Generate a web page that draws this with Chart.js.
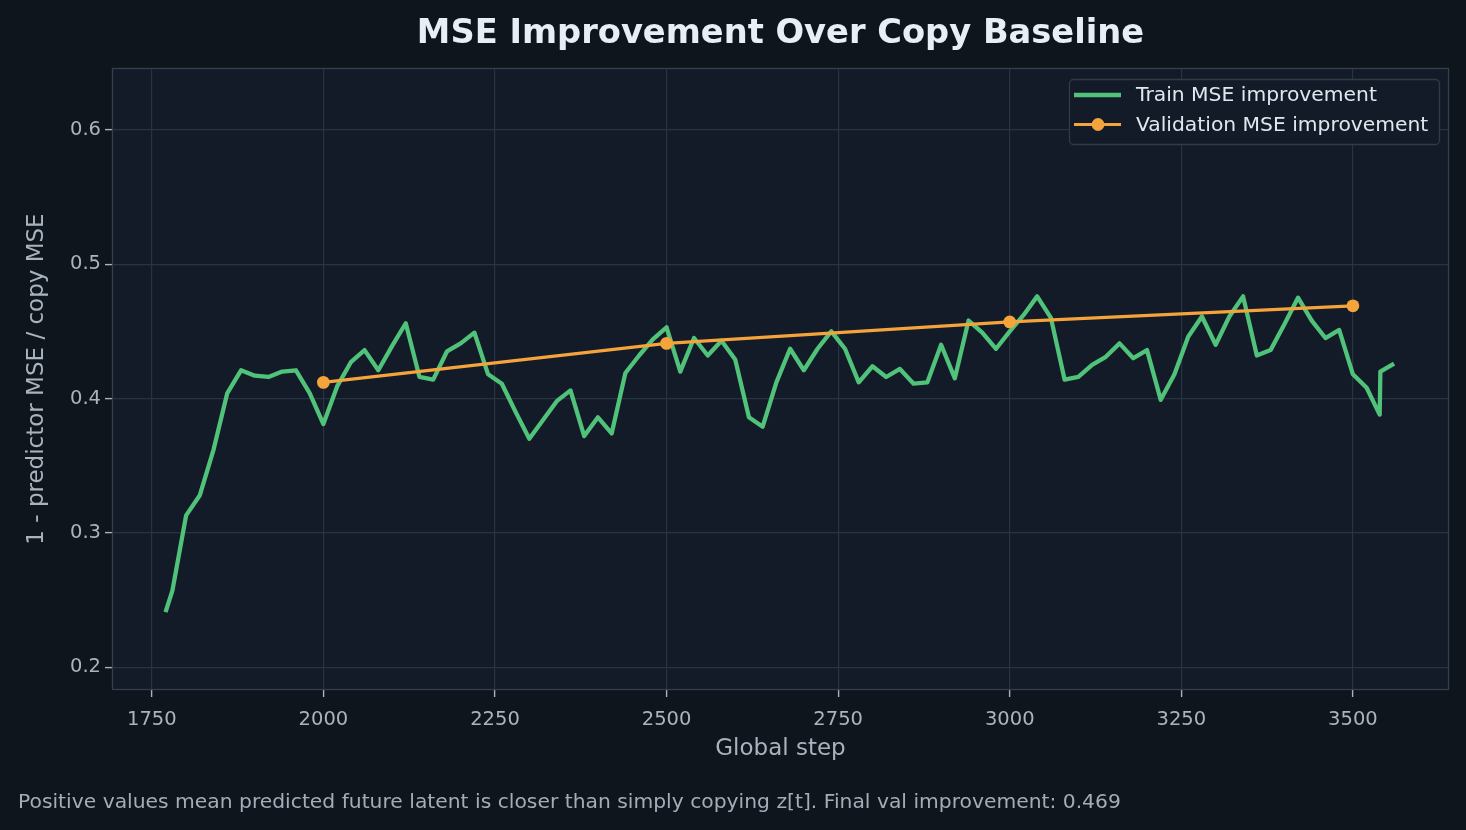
<!DOCTYPE html>
<html>
<head>
<meta charset="utf-8">
<title>MSE Improvement Over Copy Baseline</title>
<script src="https://cdn.jsdelivr.net/npm/chart.js@4.4.1/dist/chart.umd.min.js"></script>
<style>
  html, body { margin: 0; padding: 0; background: #0f151d; }
  canvas { display: block; }
</style>
</head>
<body>
<canvas id="chartMse" width="1466" height="830"></canvas>
<script>
// ─── Data ───────────────────────────────────────────────────────────────────
const trainSteps = [
  1770, 1780, 1800, 1820, 1840, 1860, 1880, 1900, 1920, 1940, 1960, 1980,
  2000, 2020, 2040, 2060, 2080, 2100, 2120, 2140, 2160, 2180, 2200, 2220,
  2240, 2260, 2280, 2300, 2320, 2340, 2360, 2380, 2400, 2420, 2440, 2460,
  2480, 2500, 2520, 2540, 2560, 2580, 2600, 2620, 2640, 2660, 2680, 2700,
  2720, 2740, 2760, 2780, 2800, 2820, 2840, 2860, 2880, 2900, 2920, 2940,
  2960, 2980, 3000, 3020, 3040, 3060, 3080, 3100, 3120, 3140, 3160, 3180,
  3200, 3220, 3240, 3260, 3280, 3300, 3320, 3340, 3360, 3380, 3400, 3420,
  3440, 3460, 3480, 3500, 3520, 3539, 3540, 3560,
];
const trainImprovement = [
  0.241, 0.257, 0.313, 0.328, 0.362, 0.404, 0.421, 0.417, 0.416, 0.420, 0.421, 0.404,
  0.381, 0.409, 0.427, 0.436, 0.421, 0.439, 0.456, 0.416, 0.414, 0.435, 0.441, 0.449,
  0.418, 0.411, 0.390, 0.370, 0.384, 0.398, 0.406, 0.372, 0.386, 0.374, 0.419, 0.432,
  0.444, 0.453, 0.420, 0.445, 0.432, 0.443, 0.429, 0.386, 0.379, 0.412, 0.437, 0.421,
  0.437, 0.450, 0.437, 0.412, 0.424, 0.416, 0.422, 0.411, 0.412, 0.440, 0.415, 0.458,
  0.449, 0.437, 0.450, 0.462, 0.476, 0.460, 0.414, 0.416, 0.425, 0.431, 0.441, 0.430,
  0.436, 0.399, 0.418, 0.446, 0.461, 0.440, 0.461, 0.476, 0.432, 0.436, 0.455, 0.475,
  0.458, 0.445, 0.451, 0.418, 0.408, 0.388, 0.420, 0.426,
];
const valSteps       = [2000, 2500, 3000, 3500];
const valImprovement = [0.412, 0.441, 0.457, 0.469];

const xTicks = [1750, 2000, 2250, 2500, 2750, 3000, 3250, 3500];
const yTicks = [0.2, 0.3, 0.4, 0.5, 0.6];

const TITLE   = 'MSE Improvement Over Copy Baseline';
const X_LABEL = 'Global step';
const Y_LABEL = '1 - predictor MSE / copy MSE';
const NOTE    = 'Positive values mean predicted future latent is closer than simply copying z[t]. Final val improvement: 0.469';

// ─── Look ───────────────────────────────────────────────────────────────────
const FONT = '"DejaVu Sans", "Liberation Sans", sans-serif';
const COL = {
  fig:    '#0f151d',
  plot:   '#121b27',
  grid:   '#283441',
  spine:  '#34404d',
  tick:   '#aab4bf',
  label:  '#a9b3be',
  title:  '#e8eef6',
  legend: '#e1e7ee',
  note:   '#a3adb8',
  train:  '#50c27a',
  val:    '#f5a33b',
};

// ─── Frame plugin: backgrounds, spines, titles, legend, note ───────────────
const frame = {
  id: 'frame',
  beforeDraw(chart) {
    const { ctx, chartArea: a } = chart;
    ctx.save();
    ctx.fillStyle = COL.fig;
    ctx.fillRect(0, 0, chart.width, chart.height);
    ctx.fillStyle = COL.plot;
    ctx.fillRect(a.left, a.top, a.right - a.left, a.bottom - a.top);
    ctx.restore();
  },
  afterDraw(chart) {
    const { ctx, chartArea: a } = chart;
    const midX = (a.left + a.right) / 2;
    ctx.save();

    // spines
    ctx.strokeStyle = COL.spine;
    ctx.lineWidth = 1.3;
    ctx.strokeRect(a.left + 0.5, a.top + 0.5, a.right - a.left - 1, a.bottom - a.top - 1);

    // title
    ctx.fillStyle = COL.title;
    ctx.font = `bold 33.7px ${FONT}`;
    ctx.textAlign = 'center';
    ctx.textBaseline = 'middle';
    ctx.fillText(TITLE, midX, 34);

    // axis titles
    ctx.fillStyle = COL.label;
    ctx.font = `23px ${FONT}`;
    ctx.fillText(X_LABEL, midX, 749);
    ctx.save();
    ctx.translate(37, (a.top + a.bottom) / 2);
    ctx.rotate(-Math.PI / 2);
    ctx.fillText(Y_LABEL, 0, 0);
    ctx.restore();

    // note under the chart
    ctx.fillStyle = COL.note;
    ctx.font = `20.3px ${FONT}`;
    ctx.textAlign = 'left';
    ctx.fillText(NOTE, 18, 803);

    drawLegend(chart);
    ctx.restore();
  },
};

function drawLegend(chart) {
  const { ctx, chartArea: a } = chart;
  const w = 370, h = 65;
  const x = a.right - 10 - w, y = a.top + 11;

  ctx.beginPath();
  ctx.roundRect(x + 0.5, y + 0.5, w, h, 4);
  ctx.fillStyle = COL.plot;
  ctx.fill();
  ctx.strokeStyle = '#303b48';
  ctx.lineWidth = 1.3;
  ctx.stroke();

  const rows = chart.data.datasets.map(ds => ({
    label: ds.label, color: ds.borderColor, width: ds.borderWidth, dot: ds.pointRadius,
  }));
  ctx.font = `20.3px ${FONT}`;
  ctx.textAlign = 'left';
  ctx.textBaseline = 'middle';
  rows.forEach((r, i) => {
    const ry = y + 16 + i * 29.5;
    ctx.beginPath();
    ctx.moveTo(x + 5, ry);
    ctx.lineTo(x + 52, ry);
    ctx.strokeStyle = r.color;
    ctx.lineWidth = r.width;
    ctx.lineCap = 'butt';
    ctx.stroke();
    if (r.dot) {
      ctx.beginPath();
      ctx.arc(x + 29, ry, r.dot, 0, Math.PI * 2);
      ctx.fillStyle = r.color;
      ctx.fill();
    }
    ctx.fillStyle = COL.legend;
    ctx.fillText(r.label, x + 67, ry + 1);
  });
}

// ─── Chart ──────────────────────────────────────────────────────────────────
const toPoints = (xs, ys) => xs.map((s, i) => ({ x: s, y: ys[i] }));

new Chart(document.getElementById('chartMse'), {
  type: 'line',
  data: {
    datasets: [
      {
        label: 'Train MSE improvement',
        data: toPoints(trainSteps, trainImprovement),
        borderColor: COL.train,
        borderWidth: 4.3,
        borderJoinStyle: 'round',
        pointRadius: 0,
        tension: 0,
        order: 1,
      },
      {
        label: 'Validation MSE improvement',
        data: toPoints(valSteps, valImprovement),
        borderColor: COL.val,
        backgroundColor: COL.val,
        borderWidth: 3.2,
        pointRadius: 6.4,
        pointBorderWidth: 0,
        pointBackgroundColor: COL.val,
        tension: 0,
        order: 0,
      },
    ],
  },
  options: {
    responsive: false,
    animation: false,
    devicePixelRatio: 1,
    layout: { padding: { top: 68, right: 17, bottom: 60, left: 0 } },
    plugins: { legend: { display: false }, title: { display: false }, tooltip: { enabled: false } },
    scales: {
      x: {
        type: 'linear',
        min: 1692, max: 3640,
        afterBuildTicks: s => { s.ticks = xTicks.map(v => ({ value: v })); },
        afterFit: s => { s.height = 80; },
        ticks: { color: COL.tick, font: { family: FONT, size: 19.5 }, padding: 11, maxRotation: 0, callback: v => String(v) },
        grid: { color: COL.grid, lineWidth: 1.2, tickLength: 7, tickColor: COL.tick, tickWidth: 1.4 },
        border: { display: false },
      },
      y: {
        type: 'linear',
        min: 0.183, max: 0.646,
        afterBuildTicks: s => { s.ticks = yTicks.map(v => ({ value: v })); },
        afterFit: s => { s.width = 112; },
        ticks: { color: COL.tick, font: { family: FONT, size: 19.5 }, padding: 4, callback: v => v.toFixed(1) },
        grid: { color: COL.grid, lineWidth: 1.2, tickLength: 7, tickColor: COL.tick, tickWidth: 1.4 },
        border: { display: false },
      },
    },
  },
  plugins: [frame],
});
</script>
</body>
</html>
